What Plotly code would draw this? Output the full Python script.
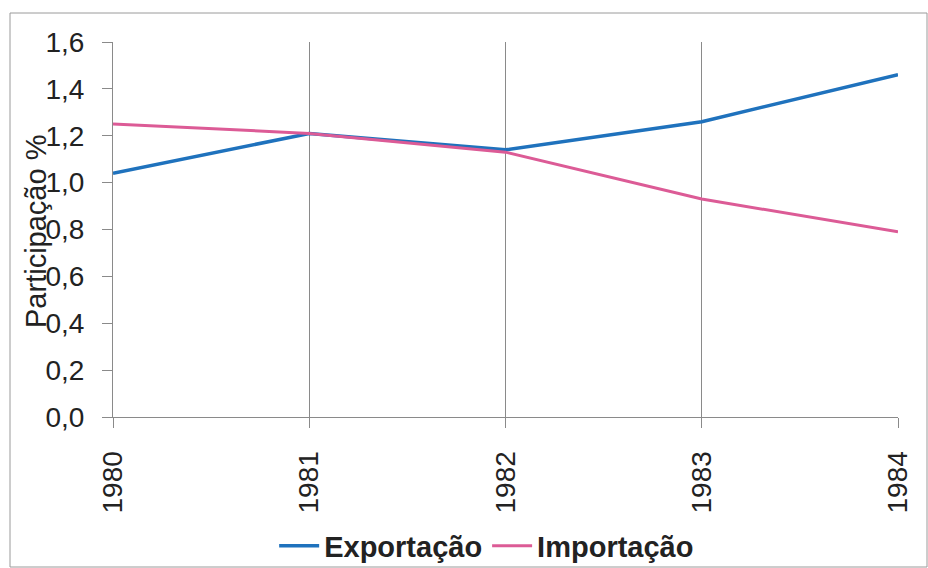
import plotly.graph_objects as go

years = [1980, 1981, 1982, 1983, 1984]
exportacao = [1.04, 1.21, 1.14, 1.26, 1.46]
importacao = [1.25, 1.21, 1.13, 0.93, 0.79]
y_ticks = [0.0, 0.2, 0.4, 0.6, 0.8, 1.0, 1.2, 1.4, 1.6]
y_labels = ["0,0", "0,2", "0,4", "0,6", "0,8", "1,0", "1,2", "1,4", "1,6"]

FONT = "Liberation Sans, Arial, sans-serif"
GRID = "#8a8a8a"

fig = go.Figure()
fig.add_trace(go.Scatter(x=years, y=exportacao, mode="lines", name="Exportação",
                         line=dict(color="#1f72bd", width=3.5)))
fig.add_trace(go.Scatter(x=years, y=importacao, mode="lines", name="Importação",
                         line=dict(color="#dc5b96", width=3)))

fig.update_layout(
    width=928, height=568,
    margin=dict(l=113, r=30, t=42, b=151, autoexpand=False),
    paper_bgcolor="white", plot_bgcolor="white",
    font=dict(family=FONT, color="#222222", size=28),
    showlegend=True,
    legend=dict(orientation="h", x=0.476, xanchor="center", y=-0.344, yanchor="middle",
                bgcolor="rgba(0,0,0,0)",
                font=dict(size=29, family=FONT, weight="bold", color="#222222"),
                itemwidth=40, tracegroupgap=0),
    xaxis=dict(range=[1980, 1984], tickmode="array", tickvals=years,
               ticktext=[str(y) for y in years], tickangle=-90,
               showgrid=True, gridcolor=GRID, gridwidth=1,
               showline=True, linecolor=GRID, linewidth=1,
               ticks="outside", ticklen=10, tickcolor=GRID,
               tickfont=dict(size=28), zeroline=False, fixedrange=True,
               ticklabelstandoff=12, automargin=False),
    yaxis=dict(range=[0, 1.6], tickmode="array", tickvals=y_ticks, ticktext=y_labels,
               showgrid=False, showline=True, linecolor=GRID, linewidth=1,
               ticks="outside", ticklen=10, tickcolor=GRID,
               tickfont=dict(size=28), zeroline=False, ticklabelstandoff=12,
               fixedrange=True, automargin=False),
)

fig.add_annotation(text="Participação %", textangle=-90, xref="paper", yref="paper",
                   x=(36 - 113) / 785, y=(417 - 232) / 375, showarrow=False,
                   font=dict(size=29, family=FONT, color="#222222"),
                   xanchor="center", yanchor="middle")

fig.add_shape(type="rect", xref="paper", yref="paper",
              x0=(10 - 113) / 785, x1=(927 - 113) / 785,
              y0=(417 - 567) / 375, y1=(417 - 13) / 375,
              line=dict(color="#9a9a9a", width=1), layer="below")

fig.write_html("out.html")
